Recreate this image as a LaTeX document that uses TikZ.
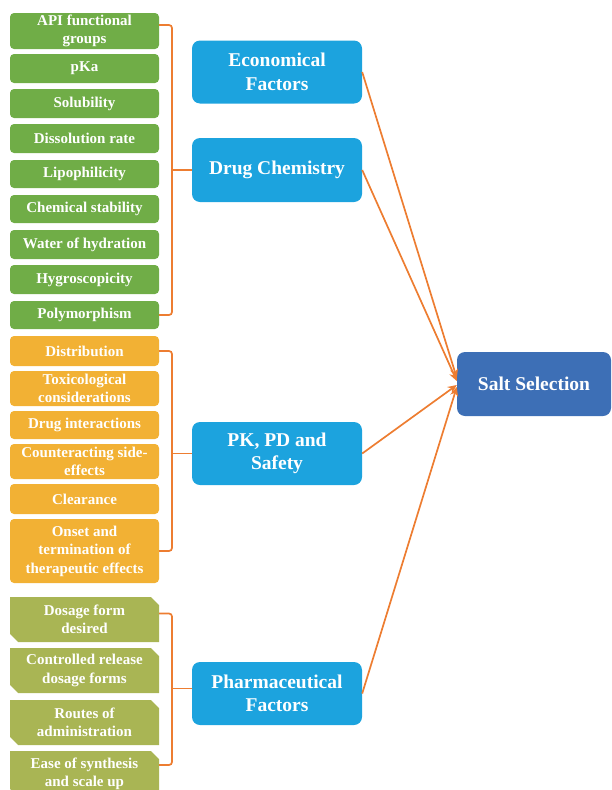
\documentclass[tikz,border=0pt]{standalone}
\usepackage{fontspec}
\setmainfont{Liberation Serif}
\usetikzlibrary{shapes.misc,arrows.meta}
\definecolor{cgreen}{HTML}{70AD47}
\definecolor{corange}{HTML}{F2B134}
\definecolor{colive}{HTML}{A9B554}
\definecolor{cblue}{HTML}{1CA3DE}
\definecolor{csalt}{HTML}{3D6FB6}
\definecolor{cline}{HTML}{ED7D31}
\begin{document}
\begin{tikzpicture}[x=1pt,y=-1pt,
  leftbox/.style={minimum width=149pt, inner sep=0pt, align=center, text=white,
    font=\fontsize{15}{18.5}\selectfont\bfseries},
  greenbox/.style={leftbox, rounded corners=4pt, fill=cgreen},
  orangebox/.style={leftbox, rounded corners=4pt, fill=corange},
  olivebox/.style={leftbox, chamfered rectangle, chamfered rectangle corners={north east,south west},
    chamfered rectangle xsep=5pt, chamfered rectangle angle=45, fill=colive},
  bluebox/.style={rounded corners=8pt, fill=cblue, minimum width=170pt, minimum height=63pt,
    inner sep=0pt, align=center, text=white, font=\fontsize{19.5}{23.5}\selectfont\bfseries},
  saltbox/.style={bluebox, fill=csalt, minimum width=154pt, minimum height=64pt},
  brace/.style={draw=cline, line width=1.7pt, rounded corners=3pt},
  link/.style={draw=cline, line width=1.7pt, -{Stealth[length=9pt,width=8pt]}}
]
\useasboundingbox (0,0) rectangle (612,790);

% green group
\node[greenbox, minimum height=36pt] (api) at (84.5,31) {API functional\\groups};
\node[greenbox, minimum height=29pt] (pka) at (84.5,68.5) {pKa};
\node[greenbox, minimum height=29pt] (sol) at (84.5,103.5) {Solubility};
\node[greenbox, minimum height=29pt] (diss) at (84.5,138.5) {Dissolution rate};
\node[greenbox, minimum height=28pt] (lipo) at (84.5,174) {Lipophilicity};
\node[greenbox, minimum height=28pt] (chem) at (84.5,209) {Chemical stability};
\node[greenbox, minimum height=29pt] (water) at (84.5,244.5) {Water of hydration};
\node[greenbox, minimum height=29pt] (hygro) at (84.5,279.5) {Hygroscopicity};
\node[greenbox, minimum height=28pt] (poly) at (84.5,315) {Polymorphism};

% orange group
\node[orangebox, minimum height=30pt] (dist) at (84.5,351) {Distribution};
\node[orangebox, minimum height=35pt] (tox) at (84.5,388.5) {Toxicological\\considerations};
\node[orangebox, minimum height=28pt] (inter) at (84.5,425) {Drug interactions};
\node[orangebox, minimum height=35pt] (counter) at (84.5,461.5) {Counteracting side-\\effects};
\node[orangebox, minimum height=30pt] (clear) at (84.5,499) {Clearance};
\node[orangebox, minimum height=64pt] (onset) at (84.5,551) {Onset and\\termination of\\therapeutic effects};

% olive group
\node[olivebox, minimum height=45pt] (dosage) at (84.5,619.5) {Dosage form\\desired};
\node[olivebox, minimum height=45pt] (ctrl) at (84.5,670.5) {Controlled release\\dosage forms};
\node[olivebox, minimum height=45pt] (routes) at (84.5,722.5) {Routes of\\administration};
\node[olivebox, minimum height=46pt] (ease) at (84.5,774) {Ease of synthesis\\and scale up};

% blue
\node[bluebox] (econ) at (277,72) {Economical\\Factors};
\node[bluebox, minimum height=64pt] (dc) at (277,170) {Drug Chemistry};
\node[bluebox] (pk) at (277,453.5) {PK, PD and\\Safety};
\node[bluebox] (pharma) at (277,693.5) {Pharmaceutical\\Factors};

% salt
\node[saltbox] (salt) at (534,384) {Salt Selection};

% brackets
\coordinate (gx) at (172,0);
\coordinate (easeb) at ([yshift=9pt]ease.east);
\coordinate (pharmab) at ([yshift=5pt]pharma.west);
\draw[brace] ([yshift=6pt]api.east) -| (gx |- poly.east) -- (poly.east);
\draw[brace] (dc.west) -- (gx |- dc.west);
\draw[brace] (dist.east) -| (gx |- onset.east) -- (onset.east);
\draw[brace] (pk.west) -- (gx |- pk.west);
\draw[brace] ([yshift=6pt]dosage.east) -| (gx |- easeb) -- (easeb);
\draw[brace] (pharmab) -- (gx |- pharmab);

% arrows
\draw[link] (econ.east) -- ([yshift=6pt]salt.west);
\draw[link] (dc.east) -- ([yshift=3pt]salt.west);
\draw[link] (pk.east) -- ([yshift=-1pt]salt.west);
\draw[link] (pharma.east) -- ([yshift=-3pt]salt.west);
\end{tikzpicture}
\end{document}
